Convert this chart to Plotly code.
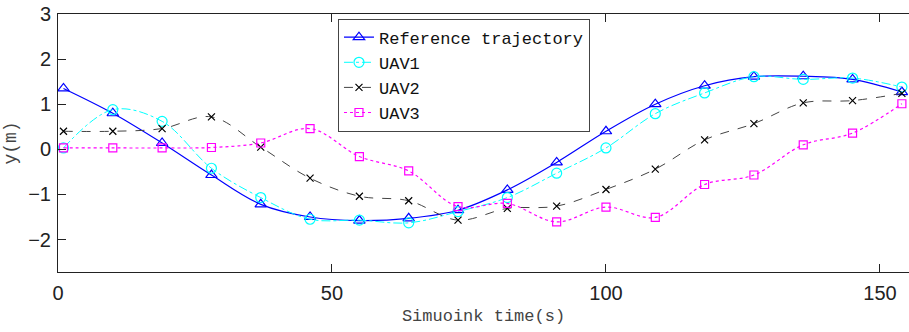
import plotly.graph_objects as go

t = [1, 10, 19, 28, 37, 46, 55, 64, 73, 82, 91, 100, 109, 118, 127, 136, 145, 154]
ref = [1.35, 0.80, 0.14, -0.57, -1.22, -1.50, -1.58, -1.53, -1.35, -0.90, -0.29, 0.40, 1.00, 1.41, 1.61, 1.62, 1.55, 1.27]
uav1 = [0.03, 0.88, 0.62, -0.42, -1.07, -1.55, -1.57, -1.63, -1.38, -1.07, -0.53, 0.03, 0.79, 1.25, 1.61, 1.55, 1.58, 1.38]
uav2 = [0.40, 0.40, 0.46, 0.72, 0.05, -0.64, -1.04, -1.14, -1.57, -1.31, -1.26, -0.89, -0.44, 0.21, 0.57, 1.03, 1.08, 1.24]
uav3 = [0.03, 0.03, 0.03, 0.04, 0.14, 0.46, -0.16, -0.48, -1.27, -1.20, -1.61, -1.28, -1.51, -0.78, -0.57, 0.10, 0.36, 1.01]

names = ["Reference trajectory", "UAV1", "UAV2", "UAV3"]
series = [ref, uav1, uav2, uav3]
line_colors = ["#0000FF", "#00FFFF", "#444444", "#FF00FF"]
marker_colors = ["#0000FF", "#00FFFF", "#000000", "#FF00FF"]
dashes = ["solid", "dashdot", "dash", "dot"]
symbols = ["triangle-up-open", "circle-open", "x-thin-open", "square-open"]
msizes = [10, 10, 7, 8]
lwidths = [1.2, 1, 1, 1.2]

fig = go.Figure()
for n, y, lc, mc, d, s, ms, lw in zip(names, series, line_colors, marker_colors, dashes, symbols, msizes, lwidths):
    fig.add_trace(go.Scatter(
        x=t, y=y, name=n, mode="lines+markers",
        line=dict(color=lc, dash=d, width=lw, shape="spline", smoothing=1.0),
        marker=dict(symbol=s, size=ms, color=mc, line=dict(color=mc, width=1.2)),
    ))

axis_common = dict(
    showline=True, linecolor="#222222", linewidth=1,
    ticks="inside", ticklen=8, tickcolor="#222222", tickwidth=1,
    showgrid=False, zeroline=False,
    tickfont=dict(family="Liberation Sans, Arial", size=20, color="#222222"),
)
title_font = dict(family="Liberation Mono", size=17, color="#444444")
fig.update_xaxes(range=[0, 155.3], tickvals=[0, 50, 100, 150], mirror="ticks",
                 ticklabelstandoff=3,
                 title=dict(text="Simuoink time(s)", font=title_font, standoff=6),
                 **axis_common)
fig.update_yaxes(range=[-2.72, 3], tickvals=[-2, -1, 0, 1, 2, 3], mirror=False,
                 ticklabelstandoff=2,
                 title=dict(text="y(m)", font=dict(family="Liberation Mono", size=18, color="#444444"), standoff=6),
                 **axis_common)

fig.update_layout(
    width=909, height=332,
    margin=dict(l=58, r=0, t=14, b=60, autoexpand=False),
    paper_bgcolor="white", plot_bgcolor="white",
    showlegend=True,
    legend=dict(
        x=0.329, y=0.982, xanchor="left", yanchor="top",
        bgcolor="white", bordercolor="#444444", borderwidth=1,
        font=dict(family="Liberation Mono", size=17, color="#111111"),
        tracegroupgap=0, itemwidth=30,
    ),
)

fig.write_html("out.html")
